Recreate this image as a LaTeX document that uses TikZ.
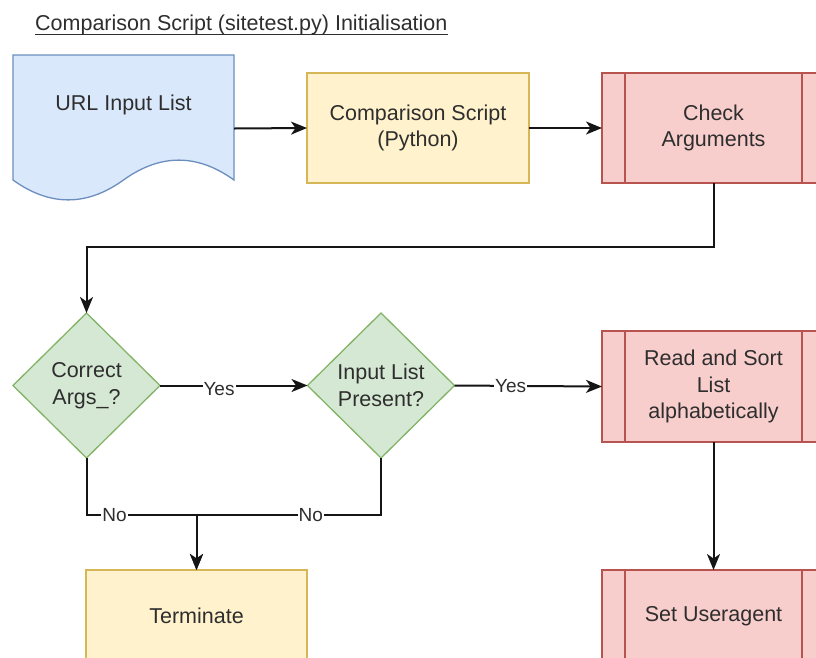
\documentclass[tikz,border=0pt]{standalone}
\usepackage{fontspec}
\setmainfont{Liberation Sans}
\usetikzlibrary{arrows.meta,shapes.geometric,calc}

\definecolor{blueFill}{HTML}{DAE8FC}
\definecolor{blueLine}{HTML}{6C8EBF}
\definecolor{yellowFill}{HTML}{FFF2CC}
\definecolor{yellowLine}{HTML}{D6B656}
\definecolor{redFill}{HTML}{F8CECC}
\definecolor{redLine}{HTML}{B85450}
\definecolor{greenFill}{HTML}{D5E8D4}
\definecolor{greenLine}{HTML}{82B366}
\definecolor{textCol}{HTML}{2E2E2E}
\definecolor{edgeCol}{HTML}{151515}

\tikzset{
  boxtext/.style={font=\fontsize{21.5}{26.5}\selectfont, text=textCol, align=center},
  plainbox/.style={boxtext, rectangle, inner sep=0pt, outer sep=0pt,
    fill=yellowFill, draw=yellowLine, line width=1.3pt},
  subproc/.style={boxtext, rectangle, inner sep=0pt, outer sep=0pt,
    fill=redFill, draw=redLine, line width=1.3pt,
    minimum width=223pt,
    path picture={
      \draw[redLine, line width=1.3pt]
        ([xshift=23pt]path picture bounding box.north west) --
        ([xshift=23pt]path picture bounding box.south west);
      \draw[redLine, line width=1.3pt]
        ([xshift=-23pt]path picture bounding box.north east) --
        ([xshift=-23pt]path picture bounding box.south east);
    }},
  decision/.style={boxtext, diamond, aspect=1, inner sep=0pt, outer sep=0pt,
    fill=greenFill, draw=greenLine, line width=1.3pt,
    minimum width=147pt, minimum height=145pt},
  conn/.style={draw=edgeCol, line width=2pt,
    -{Stealth[length=16pt, width=13pt, inset=4.5pt]}},
  lbl/.style={font=\fontsize{19}{22}\selectfont, text=textCol, fill=white,
    inner sep=1pt}
}

\begin{document}
\begin{tikzpicture}[x=1pt, y=-1pt]
  \useasboundingbox (0,0) rectangle (816,657);
  \clip (0,0) rectangle (816,657);
  \fill[white] (0,0) rectangle (816,657);

  % heading, underlined just below the descenders
  \node[anchor=base west, font=\fontsize{21.5}{26}\selectfont, text=textCol,
        inner sep=0pt] (title) at (35,30)
        {Comparison Script (sitetest.py) Initialisation};
  \draw[textCol, line width=1pt]
    ($(title.base west)+(0,4)$) -- ($(title.base east)+(0,4)$);

  % input document with wavy bottom edge
  \node[inner sep=0pt, outer sep=0pt, minimum width=221pt, minimum height=147pt]
        (url) at (123.5,128.5) {};
  \filldraw[fill=blueFill, draw=blueLine, line width=1.3pt]
    (13,55) -- (234,55) -- (234,180)
    .. controls (197.2,153.5) and (160.3,153.5) .. (123.5,180)
    .. controls (86.7,206.5) and (49.8,206.5) .. (13,180) -- cycle;
  \node[boxtext] (urltext) at (123.5,105) {URL Input List};

  % process steps
  \node[plainbox, minimum width=222pt, minimum height=110pt]
        (cmp) at (418,128) {Comparison Script\\(Python)};
  \node[subproc, minimum height=110pt]
        (chk) at (713.5,128) {Check\\Arguments};
  \node[decision] (d1) at (86.5,385.5) {Correct\\Args\_?};
  \node[decision] (d2) at (381,385.5) {Input List\\Present?};
  \node[subproc, minimum height=111pt]
        (rd) at (713.5,386.5) {Read and Sort\\List\\alphabetically};
  \node[plainbox, minimum width=221pt, minimum height=92pt]
        (term) at (196.5,616) {Terminate};
  \node[subproc, minimum height=92pt]
        (ua) at (713.5,616) {Set Useragent};

  % connectors
  \draw[conn] (url.east) -- (cmp.west);
  \draw[conn] (cmp.east) -- (chk.west);
  \draw[conn] (chk.south) -- ++(0,64) -| (d1.north);
  \draw[conn] (d1.east) -- node[lbl, pos=0.4, yshift=-4pt] {Yes} (d2.west);
  \draw[conn] (d2.east) -- node[lbl, pos=0.38] {Yes} (rd.west);
  \draw[conn] (rd.south) -- (ua.north);
  \draw[conn] (d1.south) -- ++(0,57) -| node[lbl, pos=0.127] {No} (term.north);
  \draw[conn] (d2.south) -- ++(0,57) -| node[lbl, pos=0.19] {No} (term.north);
\end{tikzpicture}
\end{document}
